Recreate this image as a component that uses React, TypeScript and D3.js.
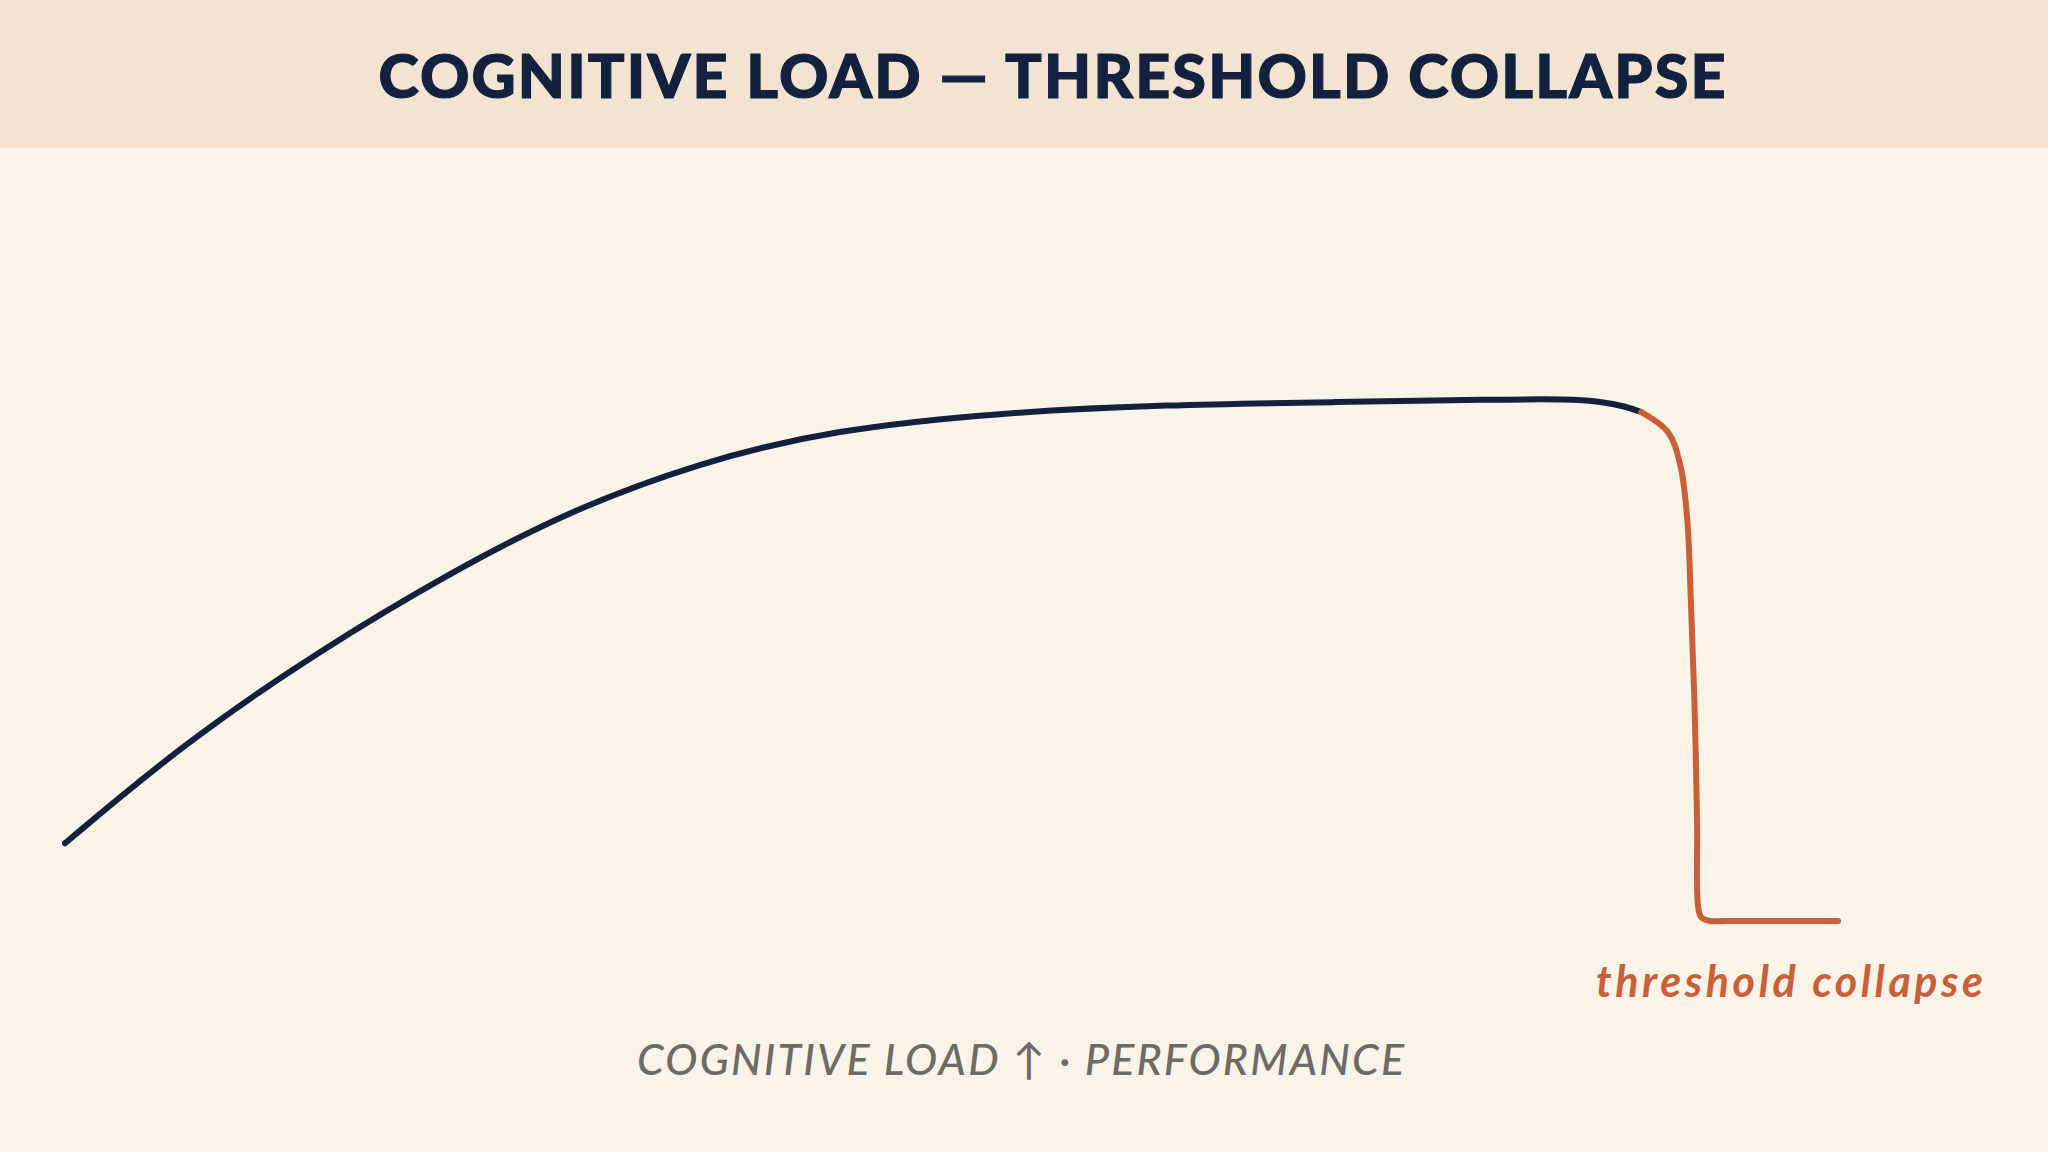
import React from "react";
import * as d3 from "d3";

const W = 2048;
const H = 1152;

// Cognitive load (0–100) vs performance (0–100)
const loadBefore = [0, 6.7, 14.2, 21.7, 28.3, 35.8, 43.3, 52.7, 62.2, 71.5, 80.9, 84.7, 86.7, 88.0, 88.9];
const perfBefore = [14.9, 34.0, 51.5, 66.7, 78.4, 87.9, 94.1, 97.4, 98.9, 99.4, 99.9, 100, 99.5, 98.6, 97.5];

const loadCollapse = [88.9, 90.4, 91.1, 91.5, 91.7, 91.9, 92.05, 92.1, 92.27, 92.78, 93.6, 100];
const perfCollapse = [97.5, 93.7, 87.4, 76.8, 61.5, 42.3, 19.3, 3.1, 0.8, 0, 0, 0];

const TITLE = "COGNITIVE LOAD — THRESHOLD COLLAPSE";
const AXIS_LABEL = "COGNITIVE LOAD ↑ · PERFORMANCE";
const COLLAPSE_LABEL = "threshold collapse";

const NAVY = "#13213f";
const ORANGE = "#c9603a";

export default function App() {
  const x = d3.scaleLinear().domain([0, 100]).range([65, 1838]);
  const y = d3.scaleLinear().domain([0, 100]).range([921, 399]);

  const lineBefore = d3
    .line<[number, number]>()
    .x((d) => x(d[0]))
    .y((d) => y(d[1]))
    .curve(d3.curveBasis);

  const lineCollapse = d3
    .line<[number, number]>()
    .x((d) => x(d[0]))
    .y((d) => y(d[1]))
    .curve(d3.curveCatmullRom.alpha(0.5));

  const before = loadBefore.map((v, i) => [v, perfBefore[i]] as [number, number]);
  const collapse = loadCollapse.map((v, i) => [v, perfCollapse[i]] as [number, number]);

  return (
    <div style={{ position: "fixed", left: 0, top: 0, width: W, height: H }}>
      <svg width={W} height={H} style={{ display: "block" }}>
        <rect x={0} y={0} width={W} height={H} fill="#faf3e8" />
        <rect x={0} y={0} width={W} height={148} fill="#f3e4d1" />
        <text
          x={1052}
          y={98}
          textAnchor="middle"
          fontFamily="Lato, 'Open Sans', sans-serif"
          fontWeight={900}
          fontSize={61}
          fill={NAVY}
          stroke={NAVY}
          strokeWidth={1.2}
          textLength={1347}
          lengthAdjust="spacing"
        >
          {TITLE}
        </text>

        <path d={lineBefore(before) || ""} fill="none" stroke={NAVY} strokeWidth={6} strokeLinecap="round" strokeLinejoin="round" />
        <path d={lineCollapse(collapse) || ""} fill="none" stroke={ORANGE} strokeWidth={6} strokeLinecap="round" strokeLinejoin="round" />

        <text
          x={1596}
          y={997}
          fontFamily="Lato, 'Open Sans', sans-serif"
          fontWeight={700}
          fontStyle="italic"
          fontSize={43}
          fill={ORANGE}
          textLength={387}
          lengthAdjust="spacing"
        >
          {COLLAPSE_LABEL}
        </text>

        <text
          x={637}
          y={1075}
          fontFamily="Lato, 'Open Sans', sans-serif"
          fontWeight={500}
          fontStyle="italic"
          fontSize={43}
          fill="#6e6a66"
          textLength={767}
          lengthAdjust="spacing"
        >
          {AXIS_LABEL}
        </text>
      </svg>
    </div>
  );
}
